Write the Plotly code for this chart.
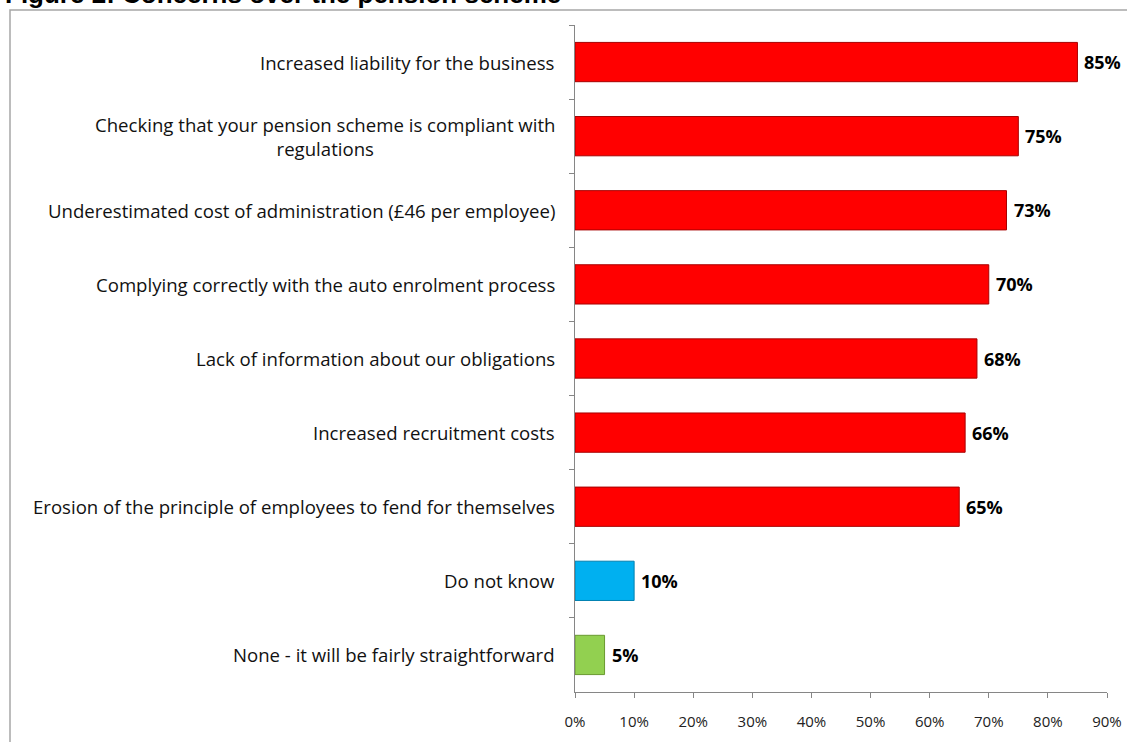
import plotly.graph_objects as go

# Survey responses: concerns over the pension scheme (share of respondents, %)
categories = [
    "Increased liability for the business",
    "Checking that your pension scheme is compliant with<br>regulations",
    "Underestimated cost of administration (£46 per employee)",
    "Complying correctly with the auto enrolment process",
    "Lack of information about our obligations",
    "Increased recruitment costs",
    "Erosion of the principle of employees to fend for themselves",
    "Do not know",
    "None - it will be fairly straightforward",
]
values = [85, 75, 73, 70, 68, 66, 65, 10, 5]
bar_colors = ["#FF0000"] * 7 + ["#00B0F0", "#92D050"]
edge_colors = ["#A80000"] * 7 + ["#0080B0", "#6A9A30"]
x_ticks = [0, 10, 20, 30, 40, 50, 60, 70, 80, 90]
x_tick_labels = [f"{t}%" for t in x_ticks]

LABEL_FONT = "'Open Sans', Lato, sans-serif"

W, H = 1127, 742
M_L, M_R, M_T, M_B = 575, 20, 25, 50
plot_w = W - M_L - M_R
plot_h = H - M_T - M_B

fig = go.Figure()
fig.add_trace(go.Bar(
    x=values,
    y=categories,
    orientation="h",
    marker=dict(color=bar_colors, line=dict(color=edge_colors, width=1)),
    width=0.53,
    hoverinfo="x+y",
))

annotations = []
# Category labels, right-aligned against the axis, multi-line labels centred
for cat in categories:
    annotations.append(dict(
        x=0, xref="paper", xanchor="right", xshift=-18,
        y=cat, yref="y", yanchor="middle",
        text=cat, showarrow=False, align="center",
        font=dict(family=LABEL_FONT, size=18.6, color="#111111"),
    ))
# Value labels just past the end of each bar
for cat, v in zip(categories, values):
    annotations.append(dict(
        x=v, xref="x", xanchor="left", xshift=5,
        y=cat, yref="y", yanchor="middle",
        text=f"<b>{v}%</b>", showarrow=False,
        font=dict(family=LABEL_FONT, size=18, color="#000000"),
    ))
# Figure caption above the chart frame
annotations.append(dict(
    x=(3 - M_L) / plot_w, xref="paper", xanchor="left",
    y=1, yref="paper", yanchor="bottom", yshift=14,
    text="<b>Figure 2: Concerns over the pension scheme</b>", showarrow=False,
    font=dict(family="Arial, 'Liberation Sans', sans-serif", size=26, color="#000000"),
))

# Outer chart frame
frame = dict(
    type="rect", xref="paper", yref="paper",
    x0=(10 - M_L) / plot_w, x1=(W + 20 - M_L) / plot_w,
    y0=-0.2, y1=(H - M_B - 10) / plot_h,
    line=dict(color="#A6A6A6", width=1.5), fillcolor="rgba(0,0,0,0)", layer="below",
)

fig.update_layout(
    width=W, height=H,
    margin=dict(l=M_L, r=M_R, t=M_T, b=M_B, autoexpand=False),
    paper_bgcolor="white", plot_bgcolor="white",
    showlegend=False,
    bargap=0.47,
    annotations=annotations,
    shapes=[frame],
    xaxis=dict(
        range=[0, 90], tickvals=x_ticks, ticktext=x_tick_labels,
        showgrid=False, zeroline=False, automargin=False,
        showline=True, linecolor="#868686", linewidth=1,
        ticks="outside", ticklen=5, tickcolor="#868686",
        tickfont=dict(family=LABEL_FONT, size=15, color="#222222"),
        ticklabelstandoff=11,
        fixedrange=True,
    ),
    yaxis=dict(
        type="category", autorange="reversed", automargin=False,
        showticklabels=False, showgrid=False, zeroline=False,
        showline=True, linecolor="#868686", linewidth=1,
        ticks="outside", ticklen=5, tickcolor="#868686", tickson="boundaries",
        fixedrange=True,
    ),
)

fig.write_html("out.html")
